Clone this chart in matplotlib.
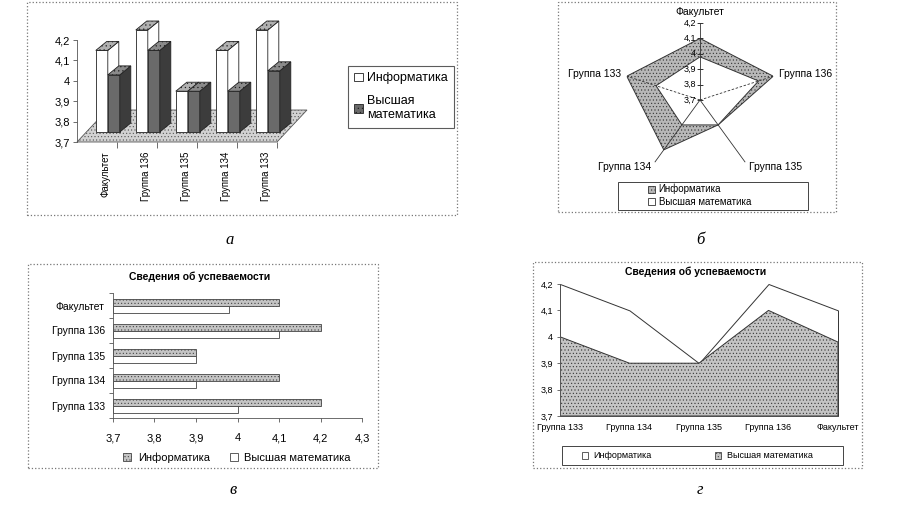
import numpy as np
import matplotlib
matplotlib.use('Agg')
import matplotlib.pyplot as plt
from matplotlib.patches import Rectangle, Polygon, Patch
from matplotlib.ticker import FuncFormatter
from matplotlib.transforms import offset_copy

plt.rcParams['font.family'] = ['Liberation Sans', 'DejaVu Sans']
plt.rcParams['hatch.linewidth'] = 0.4

# data (same for all four charts)
groups = ['Группа 133', 'Группа 134', 'Группа 135', 'Группа 136', 'Факультет']
inf = [4.2, 4.1, 3.9, 4.2, 4.1]
math = [4.0, 3.9, 3.9, 4.1, 3.98]
series = ['Информатика', 'Высшая математика']
title = 'Сведения об успеваемости'
yticks = [3.7, 3.8, 3.9, 4.0, 4.1, 4.2]
xticks_v = [3.7, 3.8, 3.9, 4.0, 4.1, 4.2, 4.3]
base = 3.7

W, H = 898, 509
fig = plt.figure(figsize=(W / 100, H / 100), dpi=100)


def box(x0, y0, x1, y1):
    return [x0 / W, 1 - y1 / H, (x1 - x0) / W, (y1 - y0) / H]


def frame(x0, y0, x1, y1, ls=':', ec='#777', lw=0.9):
    fig.patches.append(Rectangle((x0 / W, 1 - y1 / H), (x1 - x0) / W, (y1 - y0) / H,
                                 transform=fig.transFigure, fill=False, ls=ls, ec=ec, lw=lw))


comma = FuncFormatter(lambda v, p: f'{v:g}'.replace('.', ','))
GRAY = '#c4c4c4'
DARK = '#6a6a6a'

# ---------------- а: 3D columns ----------------
frame(27, 2, 457, 215)
ax = fig.add_axes(box(77, 15, 320, 142))
kx, ky = 1 / 40, 0.1 / 20.4
ax.set_xlim(0, (320 - 77) * kx)
ax.set_ylim(base, base + 127 * ky)
off = (10 * kx, 10 * ky)
dep = (11 * kx, 9 * ky)
fl = (30 * kx, 32 * ky)
ax.add_patch(Polygon([(0, base), (5, base), (5 + fl[0], base + fl[1]), (fl[0], base + fl[1])],
                     fc='#d2d2d2', ec='#555', lw=0.6, hatch='.....', clip_on=False))


def column(x0, v, w, front, side, top):
    b = base + off[1]
    t = v + off[1]
    kw = dict(ec='#222', lw=0.6, clip_on=False)
    ax.add_patch(Polygon([(x0, b), (x0 + w, b), (x0 + w, t), (x0, t)], fc=front, **kw))
    ax.add_patch(Polygon([(x0 + w, b), (x0 + w + dep[0], b + dep[1]),
                          (x0 + w + dep[0], t + dep[1]), (x0 + w, t)], fc=side, **kw))
    ax.add_patch(Polygon([(x0, t), (x0 + w, t), (x0 + w + dep[0], t + dep[1]),
                          (x0 + dep[0], t + dep[1])], fc=top, hatch='....', **kw))


cats_a = groups[::-1]
inf_a = inf[::-1]
math_a = math[::-1]
bw = 12 * kx
for i in range(len(cats_a)):
    x0 = i + 0.22 + off[0]
    column(x0, inf_a[i], bw, 'white', 'white', '#b0b0b0')
    column(x0 + bw, math_a[i], bw, DARK, '#3c3c3c', '#8a8a8a')

for s in ['top', 'right', 'bottom']:
    ax.spines[s].set_visible(False)
ax.spines['left'].set_bounds(3.7, 4.2)
ax.spines['left'].set_color('#555')
ax.spines['left'].set_linewidth(0.6)
ax.set_yticks(yticks)
ax.yaxis.set_major_formatter(comma)
ax.tick_params(axis='y', labelsize=8, length=3, width=0.6, color='#555', pad=2)
ax.set_xticks(np.arange(1, 6), [''] * 5)
ax.set_xticks(np.arange(5) + 0.72, cats_a, minor=True, rotation=90, fontsize=7, va='top')
ax.tick_params(axis='x', which='major', length=4, width=0.6, color='#555')
ax.tick_params(axis='x', which='minor', length=0, pad=7)
ax.patch.set_visible(False)

fig.legend([Patch(fc='white', ec='#222', lw=0.6), Patch(fc=DARK, ec='#222', lw=0.6, hatch='....')],
           ['Информатика', 'Высшая\nматематика'], loc='upper left',
           bbox_to_anchor=(348 / W, 1 - 66 / H), fancybox=False, edgecolor='#333',
           fontsize=9, handlelength=0.7, handleheight=0.7, handletextpad=0.3,
           borderpad=0.5, labelspacing=0.9, borderaxespad=0).get_frame().set_linewidth(0.8)
fig.text(230 / W, 1 - 240 / H, 'а', family='Liberation Serif', style='italic', fontsize=12,
         ha='center', va='center')

# ---------------- б: radar ----------------
frame(558, 2, 836, 212)
axb = fig.add_axes(box(623, 23, 777, 177), projection='polar')
axb.set_theta_zero_location('N')
axb.set_theta_direction(-1)
cats_b = groups[::-1]
th = np.arange(len(cats_b)) * 2 * np.pi / len(cats_b)
thc = np.append(th, th[0])
inf_b = np.array(inf[::-1])
math_b = np.array(math[::-1])
axb.fill(thc, np.append(inf_b, inf_b[0]), fc='#b8b8b8', ec='#333', lw=0.7, hatch='.....')
axb.fill(thc, np.append(math_b, math_b[0]), fc='white', ec='#333', lw=0.7)
for k, t in enumerate(th):
    ls = (0, (3, 2)) if cats_b[k] in ('Группа 136', 'Группа 133') else '-'
    axb.plot([t, t], [3.7, 4.2], color='#333', lw=0.6, ls=ls, zorder=3)
    s, c = np.sin(t), np.cos(t)
    ha = 'left' if s > 0.1 else ('right' if s < -0.1 else 'center')
    va = 'bottom' if c > 0.9 else 'center'
    tr = offset_copy(axb.transData, fig=fig, x=6 * s, y=6 * c, units='dots')
    axb.text(t, 4.2, cats_b[k], transform=tr, ha=ha, va=va, fontsize=7.5)
axb.plot(np.zeros(len(yticks)), yticks, ls='none', marker='_', ms=5, mew=0.6, color='#333', zorder=3)
trl = offset_copy(axb.transData, fig=fig, x=-4, y=0, units='dots')
for v in yticks:
    axb.text(0, v, comma(v), transform=trl, ha='right', va='center', fontsize=6.5)
axb.set_ylim(3.7, 4.2)
axb.set_xticks([])
axb.set_yticks([])
axb.grid(False)
axb.spines['polar'].set_visible(False)
axb.patch.set_visible(False)

frame(618, 182, 808, 210, ls='-', ec='#444', lw=0.7)
fig.legend([Patch(fc='#b8b8b8', ec='#333', lw=0.6, hatch='.....'), Patch(fc='white', ec='#333', lw=0.6)],
           series, loc='upper left', bbox_to_anchor=(648 / W, 1 - 184 / H), frameon=False,
           fontsize=7, handlelength=0.7, handleheight=0.7, handletextpad=0.4,
           borderpad=0, labelspacing=0.25, borderaxespad=0)
fig.text(700 / W, 1 - 240 / H, 'б', family='Liberation Serif', style='italic', fontsize=12,
         ha='center', va='center')

# ---------------- в: horizontal bars ----------------
frame(28, 264, 378, 468)
axc = fig.add_axes(box(113, 293, 362, 418))
y = np.arange(len(groups))
axc.barh(y + 0.14, np.array(inf) - base, left=base, height=0.28, color=GRAY, ec='#444', lw=0.6,
         hatch='.....')
axc.barh(y - 0.14, np.array(math) - base, left=base, height=0.28, color='white', ec='#444', lw=0.6)
axc.set_xlim(3.7, 4.3)
axc.set_ylim(-0.5, len(groups) - 0.5)
axc.set_xticks(xticks_v)
axc.xaxis.set_major_formatter(comma)
axc.set_yticks(np.arange(-0.5, len(groups), 1), [''] * (len(groups) + 1))
axc.set_yticks(y, groups, minor=True)
axc.tick_params(axis='y', which='major', length=3, width=0.6, color='#555')
axc.tick_params(axis='y', which='minor', length=0, labelsize=7.5, pad=6)
axc.tick_params(axis='x', length=3, width=0.6, color='#555', labelsize=8, pad=8)
for s in ['top', 'right']:
    axc.spines[s].set_visible(False)
for s in ['left', 'bottom']:
    axc.spines[s].set_linewidth(0.6)
    axc.spines[s].set_color('#555')
fig.text(200 / W, 1 - 277 / H, title, ha='center', va='center', fontsize=7.5, fontweight='bold')
fig.legend([Patch(fc=GRAY, ec='#444', lw=0.6, hatch='.....'), Patch(fc='white', ec='#444', lw=0.6)],
           series, loc='center', bbox_to_anchor=(237 / W, 1 - 458 / H), ncol=2, frameon=False,
           fontsize=8, handlelength=0.7, handleheight=0.7, handletextpad=0.6, columnspacing=1.8,
           borderaxespad=0)
fig.text(233 / W, 1 - 490 / H, 'в', family='Liberation Serif', style='italic', fontsize=12,
         ha='center', va='center')

# ---------------- г: areas ----------------
frame(533, 262, 862, 468)
axd = fig.add_axes(box(560, 284, 838, 416))
x = np.arange(len(groups))
axd.fill_between(x, base, inf, fc='white', ec='#333', lw=0.7)
axd.fill_between(x, base, math, fc=GRAY, ec='#333', lw=0.7, hatch='.....')
axd.set_xlim(0, len(groups) - 1)
axd.set_ylim(3.7, 4.2)
axd.set_yticks(yticks)
axd.yaxis.set_major_formatter(comma)
axd.set_xticks(x, groups)
axd.tick_params(axis='y', length=2, width=0.6, color='#555', labelsize=6.5, pad=3)
axd.tick_params(axis='x', length=0, labelsize=6.5, pad=5)
for s in ['top', 'right']:
    axd.spines[s].set_visible(False)
for s in ['left', 'bottom']:
    axd.spines[s].set_linewidth(0.6)
    axd.spines[s].set_color('#555')
fig.text(696 / W, 1 - 272 / H, title, ha='center', va='center', fontsize=7.5, fontweight='bold')
frame(562, 446, 843, 465, ls='-', ec='#444', lw=0.7)
fig.legend([Patch(fc='white', ec='#444', lw=0.6), Patch(fc=GRAY, ec='#444', lw=0.6, hatch='.....')],
           series, loc='center', bbox_to_anchor=(697 / W, 1 - 456 / H), ncol=2, frameon=False,
           fontsize=6.5, handlelength=0.7, handleheight=0.7, handletextpad=0.6, columnspacing=7,
           borderaxespad=0)
fig.text(700 / W, 1 - 490 / H, 'г', family='Liberation Serif', style='italic', fontsize=12,
         ha='center', va='center')

fig.savefig('out.png', dpi=100)
